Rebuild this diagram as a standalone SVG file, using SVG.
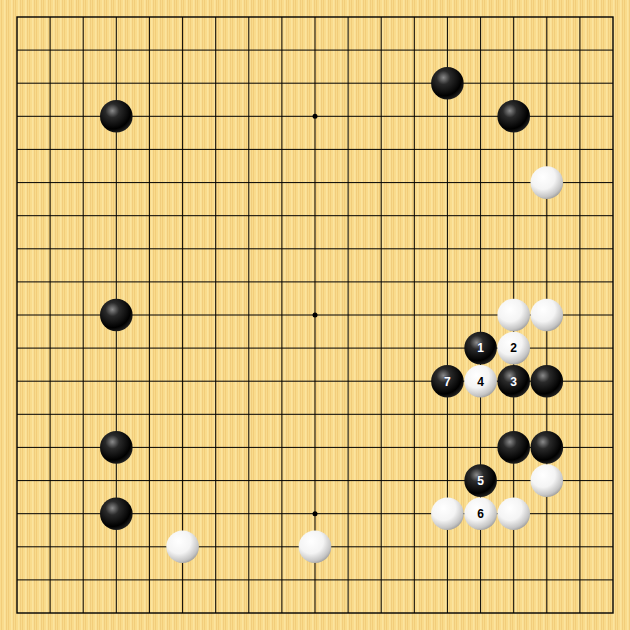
<svg xmlns="http://www.w3.org/2000/svg" width="630" height="630" viewBox="0 0 630 630">
<defs>
<pattern id="wood" x="0" y="0" width="7" height="630" patternUnits="userSpaceOnUse">
<rect width="7" height="630" fill="#f9db8c"/>
<rect x="1" width="1" height="630" fill="#f2cd7a"/>
<rect x="4" width="1.5" height="630" fill="#fbe49e"/>
<rect x="6" width="0.7" height="630" fill="#eec877"/>
</pattern>
<radialGradient id="gb" cx="0.38" cy="0.33" r="0.7">
<stop offset="0" stop-color="#8a8a8a"/>
<stop offset="0.3" stop-color="#2a2a2a"/>
<stop offset="0.8" stop-color="#000"/>
<stop offset="1" stop-color="#222"/>
</radialGradient>
<radialGradient id="gw" cx="0.38" cy="0.33" r="0.75">
<stop offset="0" stop-color="#ffffff"/>
<stop offset="0.5" stop-color="#f4f4f4"/>
<stop offset="0.82" stop-color="#c4c4c4"/>
<stop offset="1" stop-color="#8e8e8e"/>
</radialGradient>
<style>
.ln{stroke:#000;stroke-width:1;fill:none}
.bd{stroke:#000;stroke-width:1.4;fill:none}
.b{fill:url(#gb)}
.w{fill:url(#gw)}
.tb{font-family:"Liberation Sans",Arial,sans-serif;font-size:12px;font-weight:bold;fill:#fff;text-anchor:middle;stroke:#203060;stroke-width:0.5;paint-order:stroke}
.tw{font-family:"Liberation Sans",Arial,sans-serif;font-size:12px;font-weight:bold;fill:#000;text-anchor:middle}
</style>
</defs>
<rect width="630" height="630" fill="url(#wood)"/>
<g id="grid">
<path class="ln" d="M17 50.1H613M17 83.2H613M17 116.3H613M17 149.4H613M17 182.6H613M17 215.7H613M17 248.8H613M17 281.9H613M17 315H613M17 348.1H613M17 381.2H613M17 414.3H613M17 447.4H613M17 480.6H613M17 513.7H613M17 546.8H613M17 579.9H613"/>
<path class="ln" d="M50.1 17V613M83.2 17V613M116.3 17V613M149.4 17V613M182.6 17V613M215.7 17V613M248.8 17V613M281.9 17V613M315 17V613M348.1 17V613M381.2 17V613M414.3 17V613M447.4 17V613M480.6 17V613M513.7 17V613M546.8 17V613M579.9 17V613"/>
<rect class="bd" x="17" y="17" width="596" height="596"/>
<circle cx="315" cy="116.3" r="2.5"/>
<circle cx="315" cy="315" r="2.5"/>
<circle cx="315" cy="513.7" r="2.5"/>
</g>
<g id="black">
<circle class="b" cx="447.4" cy="83.2" r="16.3"/>
<circle class="b" cx="513.7" cy="116.3" r="16.3"/>
<circle class="b" cx="116.3" cy="116.3" r="16.3"/>
<circle class="b" cx="116.3" cy="315" r="16.3"/>
<circle class="b" cx="116.3" cy="447.4" r="16.3"/>
<circle class="b" cx="116.3" cy="513.7" r="16.3"/>
<circle class="b" cx="546.8" cy="381.2" r="16.3"/>
<circle class="b" cx="513.7" cy="447.4" r="16.3"/>
<circle class="b" cx="546.8" cy="447.4" r="16.3"/>
</g>
<g id="white">
<circle class="w" cx="546.8" cy="182.6" r="16.3"/>
<circle class="w" cx="513.7" cy="315" r="16.3"/>
<circle class="w" cx="546.8" cy="315" r="16.3"/>
<circle class="w" cx="546.8" cy="480.6" r="16.3"/>
<circle class="w" cx="447.4" cy="513.7" r="16.3"/>
<circle class="w" cx="513.7" cy="513.7" r="16.3"/>
<circle class="w" cx="182.6" cy="546.8" r="16.3"/>
<circle class="w" cx="315" cy="546.8" r="16.3"/>
</g>
<g id="m1"><circle class="b" cx="480.6" cy="348.1" r="16.3"/><text class="tb" x="480.6" y="352.4">1</text></g>
<g id="m2"><circle class="w" cx="513.7" cy="348.1" r="16.3"/><text class="tw" x="513.7" y="352.4">2</text></g>
<g id="m3"><circle class="b" cx="513.7" cy="381.2" r="16.3"/><text class="tb" x="513.7" y="385.5">3</text></g>
<g id="m4"><circle class="w" cx="480.6" cy="381.2" r="16.3"/><text class="tw" x="480.6" y="385.5">4</text></g>
<g id="m5"><circle class="b" cx="480.6" cy="480.6" r="16.3"/><text class="tb" x="480.6" y="484.9">5</text></g>
<g id="m6"><circle class="w" cx="480.6" cy="513.7" r="16.3"/><text class="tw" x="480.6" y="518">6</text></g>
<g id="m7"><circle class="b" cx="447.4" cy="381.2" r="16.3"/><text class="tb" x="447.4" y="385.5">7</text></g>
</svg>
